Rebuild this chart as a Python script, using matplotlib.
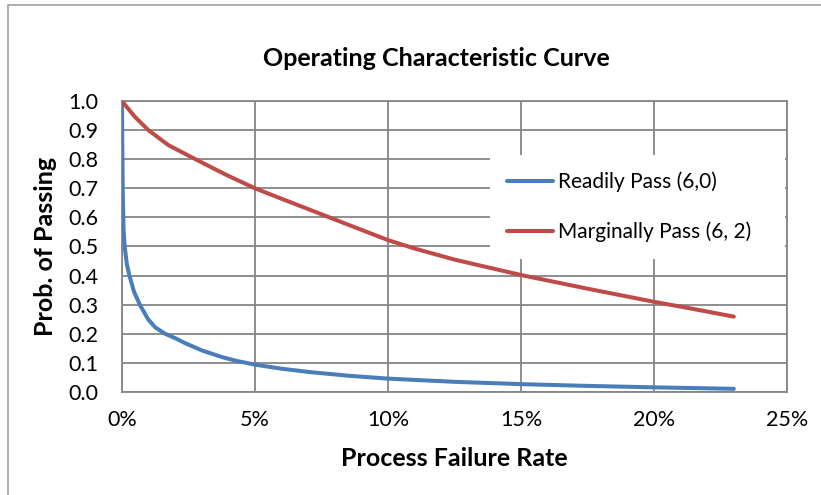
import matplotlib
matplotlib.use("Agg")
import matplotlib.pyplot as plt
from matplotlib.lines import Line2D
from matplotlib.ticker import FuncFormatter, MultipleLocator

plt.rcParams['font.family'] = ['Lato', 'DejaVu Sans']

# Datos (tasa de fallo en %, probabilidad de pasar)
tasa_readily = [0, 0.01, 0.03, 0.06, 0.1, 0.18, 0.28, 0.45, 0.67, 0.98, 1.25,
                1.62, 2.0, 2.37, 3.0, 3.76, 4.3, 5.0, 6.0, 7.0, 8.5, 10,
                12.5, 15, 17.5, 20, 23]
prob_readily = [1.0, 0.85, 0.68, 0.555, 0.50, 0.44, 0.40, 0.345, 0.30, 0.25,
                0.222, 0.20, 0.185, 0.168, 0.143, 0.12, 0.107, 0.094, 0.080,
                0.069, 0.056, 0.046, 0.035, 0.027, 0.021, 0.016, 0.011]

tasa_marginal = [0, 0.2, 0.48, 0.99, 1.75, 2.76, 3.9, 5.0, 6.0, 7.1, 8.5,
                 10, 11, 12.5, 15, 17.5, 20, 21.5, 23]
prob_marginal = [1.0, 0.977, 0.946, 0.90, 0.848, 0.80, 0.747, 0.70, 0.664,
                 0.625, 0.575, 0.522, 0.493, 0.455, 0.402, 0.355, 0.31, 0.285,
                 0.259]

etiquetas = ["Readily Pass (6,0)", "Marginally Pass (6, 2)"]

W, H = 821, 495
fig = plt.figure(figsize=(W / 100, H / 100), dpi=100)
ax = fig.add_axes([122 / W, 1 - 392 / H, (787 - 122) / W, (392 - 101) / H])

gris = "#868686"
ax.plot(tasa_readily, prob_readily, color="#4A7EBB", lw=2.9,
        solid_capstyle="round", solid_joinstyle="round", label=etiquetas[0],
        zorder=3)
ax.plot(tasa_marginal, prob_marginal, color="#BE4B48", lw=2.9,
        solid_capstyle="round", solid_joinstyle="round", label=etiquetas[1],
        zorder=3)

ax.set_xlim(0, 25)
ax.set_ylim(0, 1.0)
ax.xaxis.set_major_locator(MultipleLocator(5))
ax.yaxis.set_major_locator(MultipleLocator(0.1))
ax.xaxis.set_major_formatter(FuncFormatter(lambda v, p: f"{v:.0f}%"))
ax.yaxis.set_major_formatter(FuncFormatter(lambda v, p: f"{v:.1f}"))
ax.grid(True, color=gris, lw=1.3, zorder=0)
ax.set_axisbelow(True)
for s in ax.spines.values():
    s.set_color(gris)
    s.set_linewidth(1.3)
ax.tick_params(length=0, labelsize=15.5, colors="black")
ax.tick_params(axis="y", pad=17)
ax.tick_params(axis="x", pad=13)

ax.set_xlabel("Process Failure Rate", fontsize=18, fontweight="bold",
              labelpad=12)
ax.set_ylabel("Prob. of Passing", fontsize=18, fontweight="bold",
              labelpad=8)
fig.text(436 / W, 1 - 58 / H, "Operating Characteristic Curve", fontsize=18,
         fontweight="bold", ha="center", va="center")

# Leyenda con fondo blanco hasta el borde derecho del área de trazado
leg = ax.legend(loc="upper left",
                bbox_to_anchor=(490 / W, 1 - 255 / H, (785 - 490) / W, 100 / H),
                bbox_transform=fig.transFigure, mode="expand", fontsize=15,
                frameon=True, fancybox=False, edgecolor="none",
                facecolor="white", framealpha=1, handlelength=2.2,
                handletextpad=0.25, labelspacing=1.4, borderpad=0.8,
                borderaxespad=0)
leg.set_zorder(4)

# Borde del área del gráfico (solo arriba e izquierda visibles)
fig.add_artist(Line2D([8 / W, 8 / W, 1], [0, 1 - 5 / H, 1 - 5 / H],
                      transform=fig.transFigure, color="#a0a0a0", lw=1.2))

fig.savefig("out.png", dpi=100)
